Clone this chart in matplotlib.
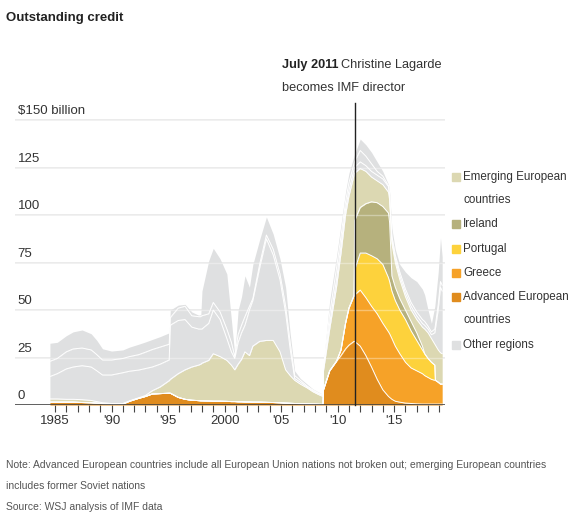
import matplotlib
matplotlib.use("Agg")
import matplotlib.pyplot as plt
import numpy as np

plt.rcParams['font.family'] = ['Liberation Sans', 'DejaVu Sans']

years = [
    1984.55, 1985.2, 1986.0, 1986.6, 1987.4, 1988.2, 1988.7, 1989.2, 1990.0, 1991.0,
    1991.6, 1992.4, 1993.0, 1993.6, 1994.3, 1995.1, 1995.2, 1995.9, 1996.5, 1997.1,
    1997.7, 1997.9, 1998.0, 1998.6, 1999.0, 1999.6, 2000.2, 2000.6, 2000.9, 2001.2,
    2001.5, 2001.8, 2002.2, 2002.5, 2003.1, 2003.7, 2004.3, 2004.9, 2005.4, 2005.8,
    2006.2, 2006.7, 2007.3, 2007.8, 2008.3, 2008.7, 2008.75, 2009.3, 2009.9, 2010.3,
    2010.7, 2011.0, 2011.45, 2011.5, 2012.0, 2012.5, 2013.0, 2013.5, 2014.0, 2014.5,
    2014.6, 2014.8, 2015.1, 2015.5, 2016.0, 2016.5, 2017.0, 2017.5, 2017.7, 2018.0,
    2018.3, 2018.6, 2018.65, 2018.9, 2019.1, 2019.25]

# cumulative (stacked) tops, $ billion
advanced_top = [
    1.5, 1.5, 1.5, 1.5, 1.3, 1.2, 1.0, 0.7, 0.4, 0.5,
    2.0, 3.5, 4.5, 5.8, 6.0, 6.2, 6.2, 4.0, 3.0, 2.5,
    2.3, 2.2, 2.2, 2.1, 2.0, 2.0, 1.9, 1.8, 1.8, 1.7,
    1.7, 1.6, 1.6, 1.5, 1.5, 1.4, 1.3, 1.2, 1.0, 0.9,
    0.8, 0.7, 0.6, 0.5, 0.4, 0.3, 8, 18, 23, 26,
    29.5, 31.5, 33.5, 33.5, 31, 26, 20, 13.5, 8, 4.5,
    4, 3, 2, 1.5, 1, 0.8, 0.6, 0.5, 0.5, 0.5,
    0.5, 0.5, 0.5, 0.5, 0.5, 0.5]
greece_top = advanced_top[:49] + [
    29,
    43, 51, 57.5, 58, 60.5, 56.5, 52, 48, 43, 38.5,
    37.5, 35, 31, 27, 22.5, 19.5, 18, 16.5, 15.5, 14.5,
    13.5, 13, 13, 12, 11, 11]
portugal_top = greece_top[:53] + [
    71, 80, 80, 78.6, 77, 74, 67,
    65, 60, 55, 50, 45, 39, 34, 29, 27, 24.5,
    22.5, 21, 13, 12, 11, 11]
ireland_top = greece_top[:53] + [
    97, 104, 106, 107, 106.5, 104.5, 101,
    96, 68, 62, 56, 50, 44, 38, 31, 27, 24.5,
    22.5, 21, 13, 12, 11, 11]
emerging_top = [
    3.2, 3.2, 3.0, 3.0, 2.8, 2.4, 1.8, 1.2, 0.8, 0.8,
    2.2, 3.8, 5.0, 7.5, 9.5, 12.8, 13.5, 16.5, 18.5, 20,
    21, 21.5, 22, 23.5, 27, 25.5, 23.5, 21, 18.5, 21.5,
    24, 28, 26, 31, 33.5, 34, 34, 28, 18.5, 15.5,
    13, 11, 9, 7, 5.5, 4.5, 18, 40, 62, 80,
    100, 110, 121, 122, 124.5, 123, 120, 118, 116, 112,
    108, 85, 75, 66, 57, 50, 45, 41, 40, 38,
    35, 32, 31.5, 29, 27.5, 27]
# other regions, split by the two white lines inside the grey area
other_lower_top = [
    15, 16.5, 19, 20, 20.7, 20, 18, 15.8, 15.8, 17,
    17.8, 18.4, 19.2, 20, 21.5, 23.7, 42, 44.5, 45, 41,
    40, 40, 40, 43, 50, 45, 35, 28, 24.5, 33,
    38, 42, 50, 55, 72, 87.5, 79, 66, 48.5, 29.5,
    14, 12, 9.5, 7.5, 6, 5, 19, 43, 66, 84,
    103, 113, 124, 125, 128, 126, 123, 121, 119, 115,
    110, 87, 77, 68, 59, 52, 47, 43, 42, 40,
    37, 38, 40, 50, 62, 60]
other_mid_top = [
    23, 24.5, 28, 29.5, 30, 29, 26.5, 23.7, 23.7, 24.5,
    25.5, 26.5, 27.8, 29.2, 30.5, 32, 46, 51, 52, 47,
    46.5, 46.5, 47, 48, 54, 49, 40, 33, 25.5, 37,
    42, 46.5, 52, 56, 74, 89.5, 82, 69, 52, 33,
    15.5, 13, 10, 8, 6.3, 5.3, 20, 48, 72, 89,
    107, 117, 127, 128, 134, 131, 127, 123, 120.5, 115.5,
    111, 89, 79, 70, 61, 54, 49, 45, 44, 41.5,
    38.5, 40, 42, 53, 65, 63]
total = [
    32.5, 33, 36.5, 38.5, 39.5, 37.5, 34, 29.6, 28.4, 29,
    30.5, 32, 33.2, 34.5, 36, 38, 50, 52.6, 53, 49,
    47.3, 47.5, 60, 76, 82.5, 77, 69, 45, 26.5, 50,
    57, 68, 62, 74, 87, 99, 90, 77, 62, 37.7,
    18, 14, 11, 8.5, 6.8, 5.6, 22, 55, 78, 95,
    112, 122, 131, 132, 140, 137, 133, 128, 123, 116,
    112, 93, 82, 74, 70, 67, 65, 61, 58, 50,
    43, 52, 55, 70, 88, 78]

legend_labels = ["Emerging European\ncountries", "Ireland", "Portugal", "Greece",
                 "Advanced European\ncountries", "Other regions"]
col_adv = "#e08c1e"
col_greece = "#f6a228"
col_portugal = "#fdd23c"
col_ireland = "#b6b17d"
col_emerging = "#dcd8b2"
col_other = "#dfe0e1"

fig = plt.figure(figsize=(5.71, 5.16), dpi=100)
ax = fig.add_axes([15 / 571, 1 - 405 / 516, 430 / 571, 302 / 516])

x = np.array(years)
bounds = [np.zeros(len(x)), advanced_top, greece_top, portugal_top, ireland_top,
          emerging_top, other_lower_top, other_mid_top, total]
colors = [col_adv, col_greece, col_portugal, col_ireland, col_emerging,
          col_other, col_other, col_other]
for i, c in enumerate(colors):
    ax.fill_between(x, bounds[i], bounds[i + 1], color=c, lw=0, zorder=2)
for b in bounds[1:-1]:
    ax.plot(x, b, color="white", lw=0.7, zorder=3)

ax.set_xlim(1981.46, 2019.5)
ax.set_ylim(0, 159)

# gridlines and y labels
for v in [25, 50, 75, 100, 125, 150]:
    ax.axhline(v, color="#e6e6e6", lw=1.2, zorder=1)
    ax.axhline(v, color="white", lw=1.0, alpha=0.35, zorder=4)
for v in [0, 25, 50, 75, 100, 125, 150]:
    lab = "$150 billion" if v == 150 else str(v)
    ax.annotate(lab, (1981.7, v), xytext=(0, 2), textcoords="offset points",
                ha="left", va="bottom", fontsize=9.5, color="#333333")

ax.axhline(0, color="#444444", lw=1.2, zorder=5)

yrs = list(range(1985, 2020))
labs = []
for y in yrs:
    if y % 5:
        labs.append("")
    elif y in (1985, 2000):
        labs.append(str(y))
    else:
        labs.append("'" + str(y)[2:])
ax.set_xticks(yrs)
ax.set_xticklabels(labs, fontsize=9.5, color="#333333")
ax.tick_params(axis="x", length=5, width=0.8, color="#444444", pad=2)
ax.set_yticks([])
for s in ax.spines.values():
    s.set_visible(False)

# Lagarde marker
ax.plot([2011.5, 2011.5], [0, 159], color="#222222", lw=1.0, zorder=6, clip_on=False)
t1 = fig.text(282 / 571, 1 - 65 / 516, "July 2011", fontsize=9.2, fontweight="bold",
              color="#222222", va="center", ha="left")
fig.canvas.draw()
bb = t1.get_window_extent()
fig.text((bb.x1 + 3) / 571, 1 - 65 / 516, "Christine Lagarde", fontsize=9.2,
         color="#333333", va="center", ha="left")
fig.text(282 / 571, 1 - 88 / 516, "becomes IMF director", fontsize=9.2,
         color="#333333", va="center", ha="left")

# legend: one square per entry, one text per line
leg_cols = [col_emerging, col_ireland, col_portugal, col_greece, col_adv, col_other]
leg_y = [177, 224, 249, 273, 297, 345]
for lab, c, yy in zip(legend_labels, leg_cols, leg_y):
    fig.patches.append(plt.Rectangle((452 / 571, 1 - (yy + 4) / 516), 8 / 571, 8 / 516,
                                     transform=fig.transFigure, color=c))
    for k, part in enumerate(lab.split("\n")):
        fig.text(463 / 571, 1 - (yy + 23 * k) / 516, part, fontsize=8.4,
                 color="#333333", va="center", ha="left")

fig.text(6 / 571, 1 - 18 / 516, "Outstanding credit", fontsize=9.5, fontweight="bold",
         color="#222222", va="center", ha="left")
fig.text(6 / 571, 1 - 465 / 516,
         "Note: Advanced European countries include all European Union nations not broken out; "
         "emerging European countries", fontsize=7.5, color="#555555", va="center")
fig.text(6 / 571, 1 - 486 / 516, "includes former Soviet nations", fontsize=7.5,
         color="#555555", va="center")
fig.text(6 / 571, 1 - 507 / 516, "Source: WSJ analysis of IMF data", fontsize=7.5,
         color="#555555", va="center")

fig.savefig("out.png", dpi=100)
